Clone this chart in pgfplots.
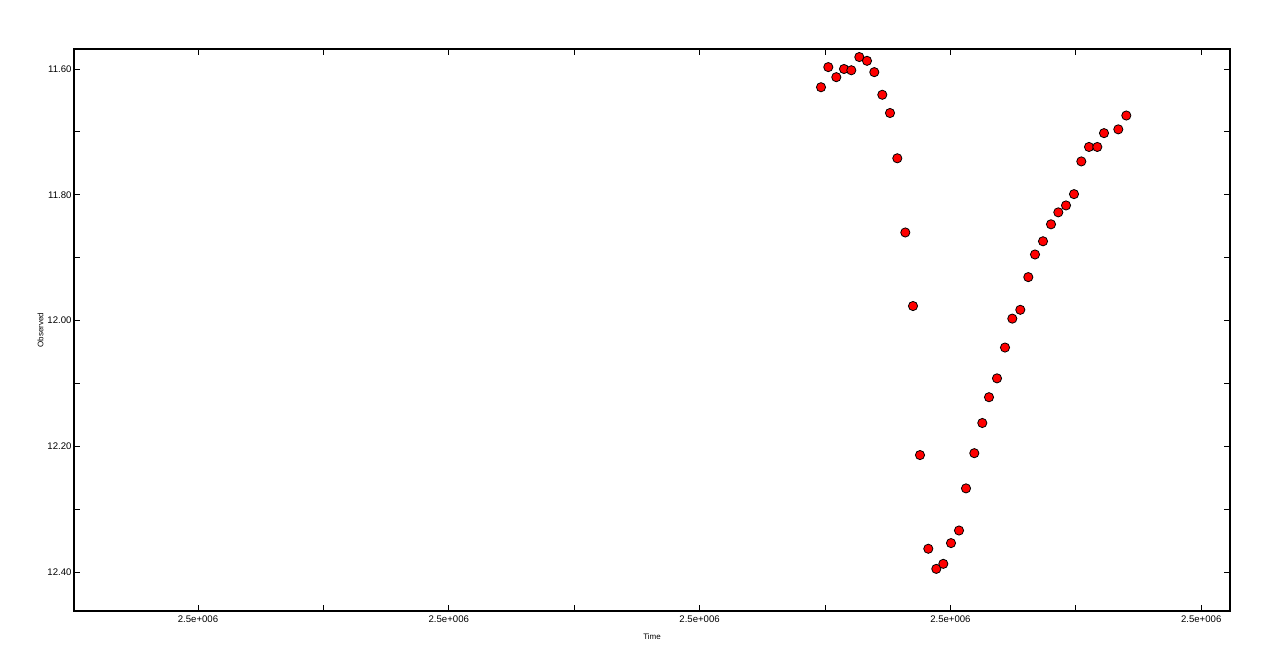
\documentclass[border=0pt]{standalone}
\usepackage{pgfplots}
\pgfplotsset{compat=1.18}
\usepackage{fontspec}
\setmainfont{Liberation Sans}
\begin{document}
\begin{tikzpicture}
\begin{axis}[
  scale only axis,
  width=1156pt, height=562pt,
  xmin=74, xmax=1230,
  ymin=11.5682, ymax=12.4620,
  y dir=reverse,
  axis line style={line width=1.2pt},
  tick align=inside,
  xtick pos=both, ytick pos=both,
  major tick length=6pt,
  tick style={black, line width=0.9pt},
  xtick={198,323.4,448.8,574.2,699.6,825,950.4,1075.8,1201.2},
  xticklabels={2.5e+006,,2.5e+006,,2.5e+006,,2.5e+006,,2.5e+006},
  ytick={11.6,11.7,11.8,11.9,12.0,12.1,12.2,12.3,12.4},
  yticklabels={11.60,,11.80,,12.00,,12.20,,12.40},
  tick label style={font=\fontsize{9.6}{10}\selectfont},
  xticklabel style={yshift=-1.5pt},
  yticklabel style={xshift=1pt},
  xlabel={Time}, ylabel={Observed},
  label style={font=\fontsize{8}{9}\selectfont},
  xlabel style={yshift=-4pt},
  ylabel style={yshift=-3pt},
]
\addplot[only marks, mark=*, mark size=4.6pt, mark options={fill=red, draw=black, line width=0.8pt}] coordinates {
(821,11.629) (828.3,11.597) (836.3,11.613) (844,11.600) (851.3,11.602)
(859.3,11.581) (867,11.587) (874.3,11.605) (882.3,11.641) (890,11.670)
(897.3,11.742) (905.3,11.860) (913,11.977) (920,12.214) (928.3,12.363)
(936.3,12.395) (943.3,12.387) (951,12.354) (959,12.334) (966,12.267)
(974.3,12.211) (982.3,12.163) (989,12.122) (997,12.092) (1005,12.043)
(1012.3,11.997) (1020.3,11.983) (1028.3,11.931) (1035,11.895) (1043,11.874)
(1051,11.847) (1058.3,11.828) (1066,11.817) (1074,11.799) (1081.3,11.747)
(1089,11.724) (1097.3,11.724) (1104,11.702) (1118.3,11.696) (1126.3,11.674)
};
\end{axis}
\path[use as bounding box] ([xshift=-74pt,yshift=-61pt]current axis.south west) rectangle ([xshift=50pt,yshift=49pt]current axis.north east);
\end{tikzpicture}
\end{document}
